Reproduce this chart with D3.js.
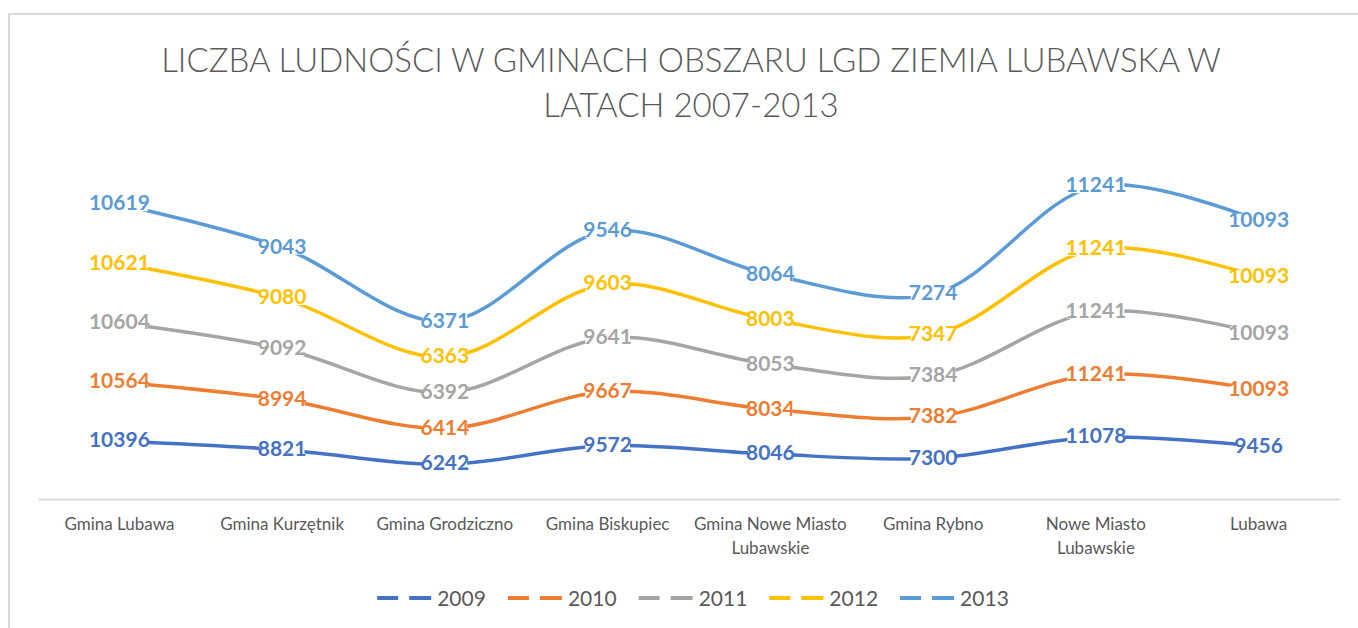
<!DOCTYPE html>
<html>
<head>
<meta charset="utf-8">
<script src="https://cdn.jsdelivr.net/npm/d3@7"></script>
<style>
  body { margin: 0; background: #fff; }
  svg { display: block; font-family: Lato, "Open Sans", sans-serif; }
</style>
</head>
<body>
<div id="chart"></div>
<script>
"use strict";

const categories = ["Gmina Lubawa", "Gmina Kurzętnik", "Gmina Grodziczno", "Gmina Biskupiec",
  "Gmina Nowe Miasto Lubawskie", "Gmina Rybno", "Nowe Miasto Lubawskie", "Lubawa"];
const years = ["2009", "2010", "2011", "2012", "2013"];
const v2009 = [10396, 8821, 6242, 9572, 8046, 7300, 11078, 9456];
const v2010 = [10564, 8994, 6414, 9667, 8034, 7382, 11241, 10093];
const v2011 = [10604, 9092, 6392, 9641, 8053, 7384, 11241, 10093];
const v2012 = [10621, 9080, 6363, 9603, 8003, 7347, 11241, 10093];
const v2013 = [10619, 9043, 6371, 9546, 8064, 7274, 11241, 10093];
const colors = ["#4472C4", "#ED7D31", "#A5A5A5", "#FFC000", "#5B9BD5"];
const yMax = 60000;

const width = 1358, height = 628;
const plot = { left: 38, right: 1340, top: 164, bottom: 499 };

// rows for d3.stack (Excel "stacked line")
const series = [v2009, v2010, v2011, v2012, v2013];
const rows = categories.map((c, i) => {
  const r = { cat: c };
  years.forEach((y, k) => r[y] = series[k][i]);
  return r;
});
const stacked = d3.stack().keys(years)(rows);

const svg = d3.select("#chart").append("svg")
  .attr("width", width).attr("height", height);

svg.append("rect").attr("width", width).attr("height", height).attr("fill", "#fff");

// chart area frame
svg.append("rect")
  .attr("x", 9).attr("y", 14).attr("width", width + 20).attr("height", height + 20)
  .attr("fill", "none").attr("stroke", "#d9d9d9").attr("stroke-width", 2);

// title
const title = svg.append("text")
  .attr("text-anchor", "middle")
  .attr("fill", "#595959")
  .style("font-size", "33px")
  .style("font-weight", 300);
title.append("tspan").attr("x", 691).attr("y", 72).text("LICZBA LUDNOŚCI W GMINACH OBSZARU LGD ZIEMIA LUBAWSKA W");
title.append("tspan").attr("x", 691).attr("y", 117).text("LATACH 2007-2013");

const x = d3.scaleBand().domain(categories).range([plot.left, plot.right]);
const y = d3.scaleLinear().domain([0, yMax]).range([plot.bottom, plot.top]);
const cx = c => x(c) + x.bandwidth() / 2;

// category axis
const xAxis = svg.append("g")
  .attr("transform", `translate(0,${plot.bottom})`)
  .call(d3.axisBottom(x).tickSize(0).tickPadding(19));
xAxis.select(".domain").attr("stroke", "#d9d9d9").attr("stroke-width", 2);
xAxis.selectAll(".tick text")
  .attr("fill", "#595959")
  .style("font-size", "17px")
  .style("font-family", "Lato, sans-serif")
  .each(function() { wrap(d3.select(this), 156); });

function wrap(text, maxW) {
  const words = text.text().split(" ");
  const yy = text.attr("y");
  text.text(null);
  let line = [], lineNo = 0;
  let tspan = text.append("tspan").attr("x", 0).attr("y", yy).attr("dy", "0.71em");
  words.forEach(w => {
    line.push(w);
    tspan.text(line.join(" "));
    if (tspan.node().getComputedTextLength() > maxW && line.length > 1) {
      line.pop();
      tspan.text(line.join(" "));
      line = [w];
      lineNo++;
      tspan = text.append("tspan").attr("x", 0).attr("y", yy)
        .attr("dy", (0.71 + lineNo * 1.38) + "em").text(w);
    }
  });
}

// lines
const line = d3.line()
  .x(d => cx(d.data.cat))
  .y(d => y(d[1]))
  .curve(d3.curveCatmullRom.alpha(0.5));

svg.append("g").selectAll("path")
  .data(stacked).enter().append("path")
  .attr("d", line)
  .attr("fill", "none")
  .attr("stroke", (d, i) => colors[i])
  .attr("stroke-width", 3.5)
  .attr("stroke-linecap", "round");

// data labels (white box hides the line under the number, like Excel)
const points = stacked.flatMap((s, i) => s.map(d => ({ x: cx(d.data.cat), y: y(d[1]), v: d.data[s.key], i })));
const boxes = svg.append("g");
const labels = svg.append("g").selectAll("text")
  .data(points).enter().append("text")
  .attr("x", d => d.x).attr("y", d => d.y)
  .attr("dy", "0.3em")
  .attr("text-anchor", "middle")
  .attr("fill", d => colors[d.i])
  .style("font-size", "21px")
  .style("font-weight", "bold")
  .text(d => d.v);
labels.each(function(d) {
  const w = this.getComputedTextLength();
  boxes.append("rect")
    .attr("x", d.x - w / 2 + 2).attr("y", d.y - 7)
    .attr("width", w - 4).attr("height", 14)
    .attr("fill", "#fff");
});

// legend
const legend = svg.append("g").attr("transform", "translate(0,598)");
const items = legend.selectAll("g").data(years).enter().append("g");
items.append("line")
  .attr("x1", 0).attr("x2", 54).attr("y1", 0).attr("y2", 0)
  .attr("stroke", (d, i) => colors[i])
  .attr("stroke-width", 4)
  .attr("stroke-dasharray", "21,11,22");
items.append("text")
  .attr("x", 60).attr("dy", "0.36em")
  .attr("fill", "#595959")
  .style("font-size", "21px")
  .text(d => d);
let pos = 0;
const offsets = [];
items.each(function() {
  offsets.push(pos);
  pos += 60 + d3.select(this).select("text").node().getComputedTextLength() + 22;
});
const total = pos - 22;
items.attr("transform", (d, i) => `translate(${693 - total / 2 + offsets[i]},0)`);
</script>
</body>
</html>
